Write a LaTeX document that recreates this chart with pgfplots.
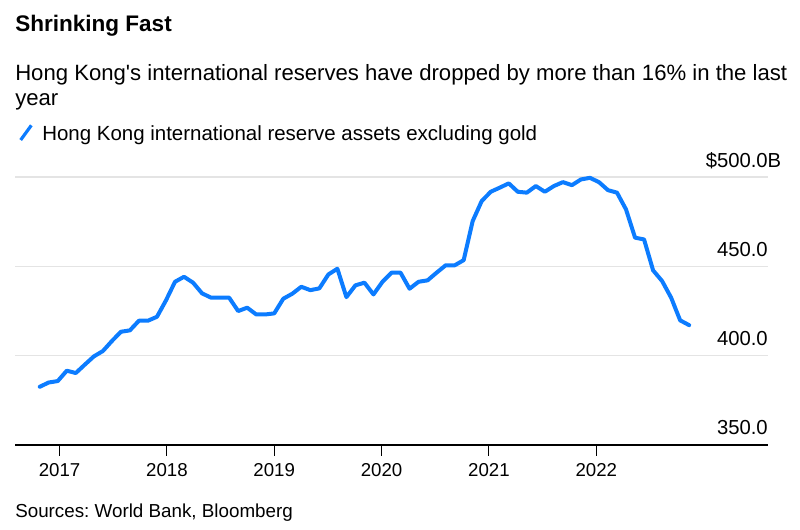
\documentclass[border=0pt]{standalone}
\usepackage{pgfplots}
\pgfplotsset{compat=1.18}
\usepackage{fontspec}
\setmainfont{Liberation Sans}
\frenchspacing
\definecolor{bbblue}{RGB}{12,124,255}
\definecolor{gridgray}{RGB}{228,228,228}
\pgfplotstableread{
i v
0 382.6
1 385.0
2 385.8
3 391.6
4 390.3
5 395.0
6 399.6
7 402.6
8 408.2
9 413.4
10 414.2
11 419.6
12 419.6
13 421.8
14 431.0
15 441.4
16 444.2
17 440.9
18 434.9
19 432.5
20 432.5
21 432.5
22 425.0
23 426.9
24 423.1
25 423.1
26 423.7
27 431.9
28 434.7
29 438.6
30 436.7
31 437.7
32 445.5
33 448.7
34 432.8
35 439.4
36 440.9
37 434.3
38 441.4
39 446.5
40 446.5
41 437.5
42 441.4
43 442.2
44 446.5
45 450.6
46 450.6
47 453.5
48 475.4
49 486.6
50 491.8
51 494.1
52 496.5
53 491.8
54 491.3
55 495.0
56 491.8
57 495.0
58 497.2
59 495.5
60 498.7
61 499.6
62 497.2
63 492.7
64 491.3
65 481.9
66 466.1
67 465.1
68 447.8
69 441.8
70 432.5
71 419.8
72 417.1
}\reserves
\begin{document}
\begin{tikzpicture}
\path[use as bounding box] (0,0) rectangle (600pt,-397.5pt);
\node[anchor=base west, inner sep=0pt, font=\fontsize{16.9}{20}\selectfont\bfseries] at (11.25pt,-24pt) {Shrinking Fast};
\node[anchor=base west, inner sep=0pt, font=\fontsize{16.6}{20}\selectfont] at (11.25pt,-60.75pt) {Hong Kong\textquotesingle s international reserves have dropped by more than 16\% in the last};
\node[anchor=base west, inner sep=0pt, font=\fontsize{16.6}{20}\selectfont] at (11.25pt,-79.5pt) {year};
\draw[bbblue, line width=2.4pt] (15.5pt,-105pt) -- (23.5pt,-94pt);
\node[anchor=base west, inner sep=0pt, font=\fontsize{15.35}{18}\selectfont] at (31.5pt,-105.75pt) {Hong Kong international reserve assets excluding gold};
\node[anchor=base west, inner sep=0pt, font=\fontsize{14.1}{17}\selectfont] at (11.25pt,-388.5pt) {Sources: World Bank, Bloomberg};
\begin{axis}[
  at={(11.25pt,-333.75pt)}, anchor=south west,
  scale only axis, width=564.75pt, height=207.6pt,
  xmin=-2.74, xmax=80.74, ymin=350, ymax=505,
  axis x line*=bottom, axis y line*=right,
  x axis line style={black, line width=0.9pt, -},
  y axis line style={draw=none},
  xtick={2.2,14.1,26,37.9,49.8,61.7},
  xticklabels={2017,2018,2019,2020,2021,2022},
  xtick style={black, line width=0.8pt},
  xtick align=outside, major tick length=8pt,
  ytick={350,400,450,500},
  yticklabels={350.0,400.0,450.0,{\$500.0\rlap{B}}},
  ytick style={draw=none},
  ymajorgrids, grid style={gridgray, line width=1pt},
  yticklabel pos=right,
  yticklabel style={anchor=base east, inner sep=0pt, xshift=0pt, yshift=7.5pt, font=\fontsize{15.2}{18}\selectfont},
  xticklabel style={font=\fontsize{14}{17}\selectfont, yshift=-2.5pt},
  /pgf/number format/assume math mode=true,
  clip=false,
]
\addplot[bbblue, line width=3pt, line join=round, line cap=round] table[x=i, y=v] {\reserves};
\end{axis}
\end{tikzpicture}
\end{document}
